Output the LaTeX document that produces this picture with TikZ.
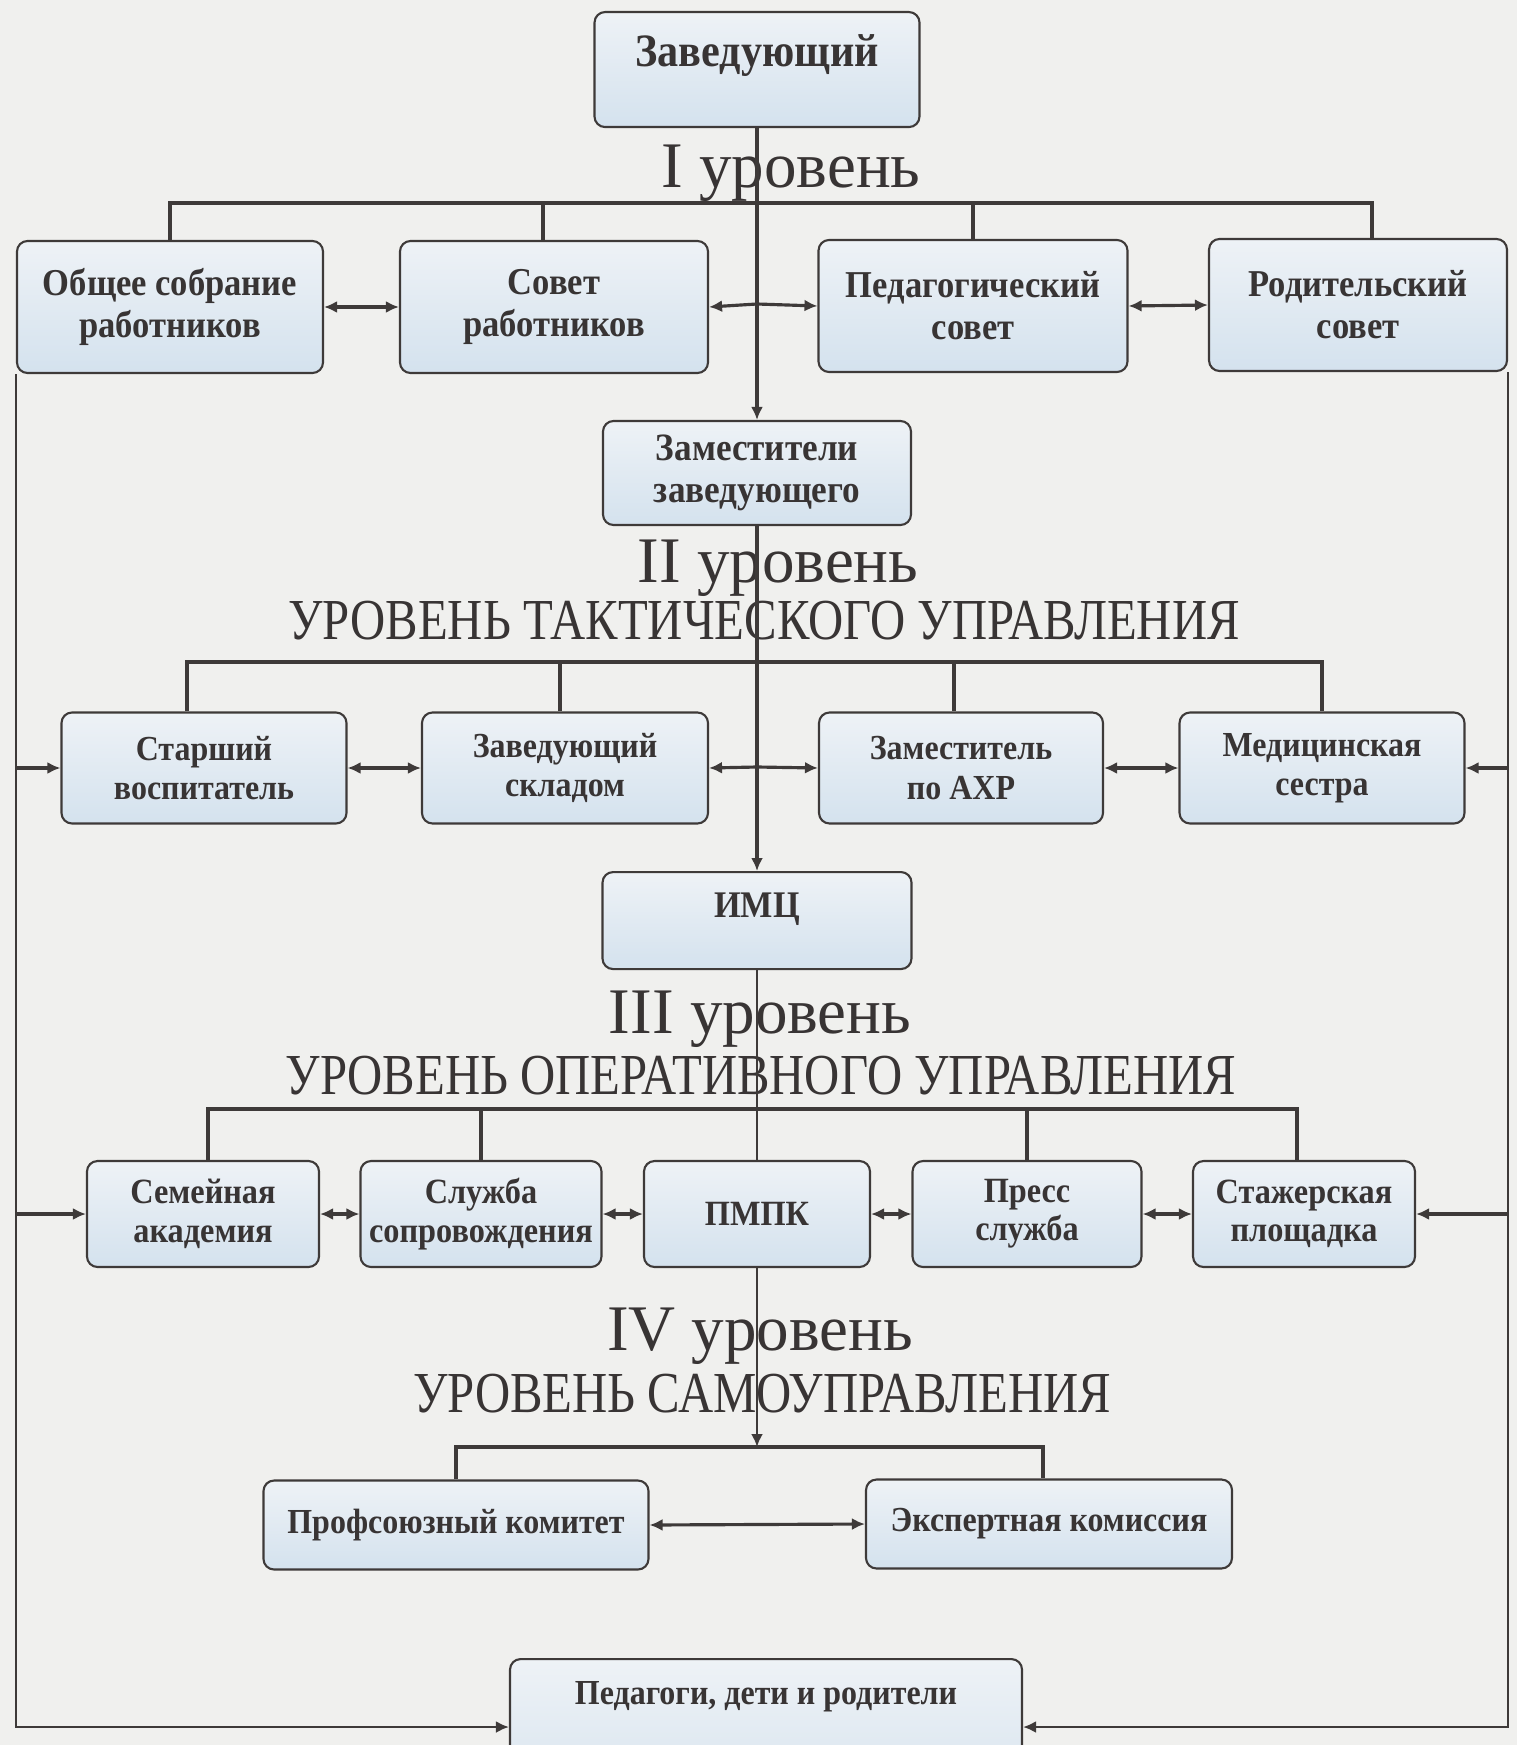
\documentclass[tikz,border=0pt]{standalone}
\usepackage{fontspec}
\setmainfont{Liberation Serif}
\newfontfamily\schmal{Liberation Serif}[FakeStretch=0.84]
\newfontfamily\kastenschrift{Liberation Serif}[FakeStretch=0.91]
\usetikzlibrary{arrows.meta,calc}
\definecolor{papier}{HTML}{F0F0EE}
\definecolor{linie}{HTML}{3E3A39}
\definecolor{schrift}{HTML}{383434}
\definecolor{boxoben}{HTML}{EEF2F6}
\definecolor{boxunten}{HTML}{D4E2EE}
\tikzset{
  kasten/.style={draw=linie,line width=0.6pt,rounded corners=3pt,top color=boxoben,bottom color=boxunten,
    align=center,text=schrift,inner sep=0pt,font=\kastenschrift\bfseries\fontsize{10}{11.2}\selectfont},
  kasten1/.style={kasten,minimum height=13.2mm,font=\kastenschrift\bfseries\fontsize{10.8}{12}\selectfont},
  kasten2/.style={kasten,minimum height=11.1mm},
  kasten3/.style={kasten,minimum height=10.6mm,font=\kastenschrift\bfseries\fontsize{10.1}{10.9}\selectfont},
  bus/.style={linie,line width=0.9pt},
  hauptl/.style={linie,line width=0.7pt},
  pfeil/.style={-{Latex[length=1.3mm,width=1.2mm]},linie,line width=0.9pt},
  dpfeil/.style={{Latex[length=1.3mm,width=1.2mm]}-{Latex[length=1.3mm,width=1.2mm]},linie,line width=0.9pt},
  ebene/.style={text=schrift,inner sep=0pt,font=\fontsize{18.5}{20}\selectfont},
  titel/.style={text=schrift,inner sep=0pt,font=\schmal\fontsize{16.5}{18}\selectfont},
}

\begin{document}
\begin{tikzpicture}[x=0.1mm,y=-0.1mm]
  \useasboundingbox (0,0) rectangle (1517,1745);
  \clip (0,0) rectangle (1517,1745);
  \fill[papier] (0,0) rectangle (1517,1745);

  \node[ebene] (lvl1) at (791,173) {I уровень};
  \node[ebene] (lvl2) at (778,568) {II уровень};
  \node[titel] (sub2) at (764,621) {УРОВЕНЬ ТАКТИЧЕСКОГО УПРАВЛЕНИЯ};
  \node[ebene] (lvl3) at (760,1019) {III уровень};
  \node[titel] (sub3) at (761,1076) {УРОВЕНЬ ОПЕРАТИВНОГО УПРАВЛЕНИЯ};
  \node[ebene] (lvl4) at (760,1336) {IV уровень};
  \node[titel] (sub4) at (762,1394) {УРОВЕНЬ САМОУПРАВЛЕНИЯ};

  \node[kasten,anchor=north,minimum width=32.5mm,text height=5.4mm,text depth=6.1mm,
    font=\kastenschrift\bfseries\fontsize{13.2}{14}\selectfont] (zav) at (757,11) {Заведующий};

  \node[kasten1,minimum width=30.6mm] (obsh) at (170,307) {Общее собрание\\работников};
  \node[kasten1,minimum width=30.8mm] (sovet) at (554,307) {Совет\\работников};
  \node[kasten1,minimum width=30.9mm] (ped) at (973,306) {Педагогический\\совет};
  \node[kasten1,minimum width=29.8mm] (rod) at (1358,305) {Родительский\\совет};

  \node[kasten,minimum width=30.8mm,minimum height=10.4mm,
    font=\kastenschrift\bfseries\fontsize{11}{12}\selectfont] (zam) at (757,473) {Заместители\\заведующего};

  \node[kasten2,minimum width=28.5mm] (starsh) at (204,768) {Старший\\воспитатель};
  \node[kasten2,minimum width=28.6mm] (sklad) at (565,768) {Заведующий\\складом};
  \node[kasten2,minimum width=28.4mm] (axr) at (961,768) {Заместитель\\по АХР};
  \node[kasten2,minimum width=28.5mm] (med) at (1322,768) {Медицинская\\сестра};

  \node[kasten,anchor=north,minimum width=30.9mm,text height=4.5mm,text depth=5.2mm,
    font=\kastenschrift\bfseries\fontsize{10.7}{12}\selectfont] (imc) at (757,871) {ИМЦ};

  \node[kasten3,minimum width=23.2mm] (sem) at (203,1214) {Семейная\\академия};
  \node[kasten3,minimum width=24.1mm] (sluzh) at (481,1214) {Служба\\сопровождения};
  \node[kasten3,minimum width=22.6mm] (pmpk) at (757,1214) {ПМПК};
  \node[kasten3,minimum width=22.9mm] (press) at (1027,1214) {Пресс\\служба};
  \node[kasten3,minimum width=22.2mm] (stazh) at (1304,1214) {Стажерская\\площадка};

  \node[kasten,minimum width=38.5mm,minimum height=8.9mm] (prof) at (456,1525) {Профсоюзный комитет};
  \node[kasten,minimum width=36.6mm,minimum height=8.9mm] (exp) at (1049,1524) {Экспертная комиссия};

  \node[kasten,anchor=north,minimum width=51.2mm,text height=4.5mm,text depth=12mm] (pdr) at (766,1658) {Педагоги, дети и родители};

  \coordinate (b1) at (757,203);
  \coordinate (a1) at (757,304);
  \coordinate (b2) at (757,662);
  \coordinate (a2) at (757,767);
  \coordinate (b3) at (757,1109);
  \coordinate (b4) at (757,1447);
  \coordinate (lu) at (17,1727);

  \draw[pfeil] (zav.south) -- (zam.north);
  \draw[bus] (obsh.north) |- (b1) -| ([xshift=1.4mm]rod.north);
  \draw[bus] ([xshift=-1.1mm]sovet.north) -- ([xshift=-1.1mm]sovet.north |- b1);
  \draw[bus] (ped.north) -- (ped.north |- b1);
  \draw[dpfeil] (obsh.east) -- (sovet.west);
  \draw[pfeil] (a1) -- (sovet.east);
  \draw[pfeil] (a1) -- (ped.west);
  \draw[dpfeil] (ped.east) -- (rod.west);

  \draw[pfeil] (zam.south) -- (imc.north);
  \draw[bus] ([xshift=-1.7mm]starsh.north) |- (b2) -| (med.north);
  \draw[bus] ([xshift=-0.5mm]sklad.north) -- ([xshift=-0.5mm]sklad.north |- b2);
  \draw[bus] ([xshift=-0.7mm]axr.north) -- ([xshift=-0.7mm]axr.north |- b2);
  \draw[dpfeil] (starsh.east) -- (sklad.west);
  \draw[pfeil] (a2) -- (sklad.east);
  \draw[pfeil] (a2) -- (axr.west);
  \draw[dpfeil] (axr.east) -- (med.west);

  \draw[hauptl] (imc.south) -- (pmpk.north);
  \draw[bus] ([xshift=0.5mm]sem.north) |- (b3) -| ([xshift=-0.7mm]stazh.north);
  \draw[bus] (sluzh.north) -- (sluzh.north |- b3);
  \draw[bus] (press.north) -- (press.north |- b3);
  \draw[dpfeil] (sem.east) -- (sluzh.west);
  \draw[dpfeil] (sluzh.east) -- (pmpk.west);
  \draw[dpfeil] (pmpk.east) -- (press.west);
  \draw[dpfeil] (press.east) -- (stazh.west);

  \draw[-{Latex[length=1.3mm,width=1.2mm]},hauptl] (pmpk.south) -- (b4);
  \draw[bus,line width=1.1pt] (prof.north) |- (b4) -| ([xshift=-0.6mm]exp.north);
  \draw[dpfeil] (prof.east) -- (exp.west);

  \draw[pfeil,hauptl] (obsh.south west) |- (pdr.west |- lu);
  \draw[pfeil,hauptl] (rod.south east) |- (pdr.east |- lu);
  \draw[pfeil] (obsh.south west |- starsh.west) -- (starsh.west);
  \draw[pfeil] (obsh.south west |- sem.west) -- (sem.west);
  \draw[pfeil] (rod.south east |- med.east) -- (med.east);
  \draw[pfeil] (rod.south east |- stazh.east) -- (stazh.east);
\end{tikzpicture}
\end{document}
